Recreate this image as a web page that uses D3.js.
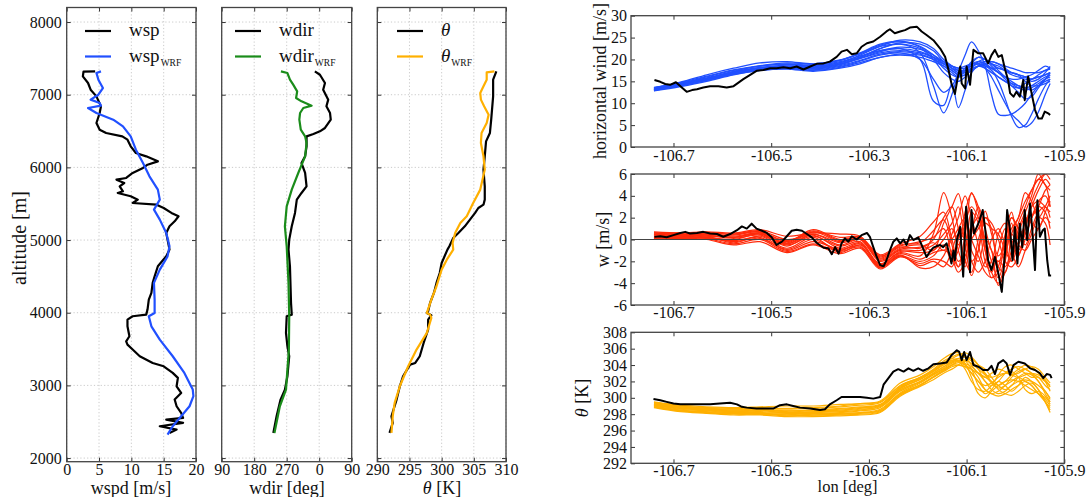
<!DOCTYPE html>
<html>
<head>
<meta charset="utf-8">
<script src="https://cdn.jsdelivr.net/npm/d3@7"></script>
<style>
  body { margin: 0; background: #fff; }
  svg { display: block; }
</style>
</head>
<body>
<svg id="fig" width="1087" height="497" font-family="Liberation Serif"></svg>
<script>
// ---------------- vertical profiles (altitude in m) ----------------
const altTicks = [2000, 3000, 4000, 5000, 6000, 7000, 8000];
const wspTicks = [0, 5, 10, 15, 20];
const wdirTicks = [90, 180, 270, 360, 450];
const thetaTicks = [290, 295, 300, 305, 310];

const wspObsAlt = [7322,7318,7252,7161,7069,6977,6840,6748,6611,6519,6473,6427,6381,6290,6198,6152,6083,6037,5992,5923,5854,5831,5785,5739,5671,5648,5602,5556,5510,5487,5441,5373,5327,5258,5189,5098,5006,4868,4776,4639,4501,4410,4272,4180,4043,3974,3951,3905,3813,3676,3607,3561,3493,3401,3309,3263,3172,3103,2988,2896,2805,2713,2621,2553,2530,2484,2438,2392,2346];
const wspObs    = [4.4,2.6,2.5,3.3,3.7,4.6,5.3,5.1,4.6,5.1,6.1,8.6,9.4,9.9,10.7,12.3,14.1,12.5,11.8,10.2,9.2,7.7,8.9,8.2,8.7,7.9,9.9,11.0,10.2,13.9,15.0,16.2,17.3,16.7,15.9,15.4,15.6,15.9,15.4,14.1,13.6,13.3,13.1,12.7,12.5,12.3,10.2,9.4,9.4,9.7,9.2,9.4,10.2,11.3,13.3,15.0,16.4,17.2,17.0,17.7,16.7,17.0,17.7,18.0,15.4,18.0,14.4,17.0,15.9];

const wspWrfAlt = [7321,7298,7207,7092,7000,6932,6886,6849,6817,6748,6656,6565,6427,6244,6060,5877,5694,5556,5418,5281,5098,4914,4776,4593,4410,4180,3997,3951,3813,3630,3401,3172,2942,2851,2713,2576,2438,2323];
const wspWrf    = [5.3,4.6,4.9,5.6,4.9,3.7,5.1,5.3,3.3,4.6,7.2,8.7,9.9,10.7,11.8,12.8,14.1,14.4,13.5,14.4,15.4,15.9,15.6,14.4,13.5,13.6,13.6,12.7,13.1,14.4,16.4,18.2,19.5,19.6,19.0,17.7,16.4,15.6];

// wind direction in compass degrees
const wdirObsAlt = [7321,7275,7161,7069,6932,6840,6748,6656,6542,6496,6459,6427,6290,6152,6060,5923,5739,5648,5556,5373,5189,5006,4868,4639,4134,3974,3951,3722,3538,3401,3126,2942,2805,2576,2346];
const wdirObs    = [348,2,16,11,25,20,30,32,16,2,344,325,325,321,311,321,325,311,298,293,284,277,275,279,282,284,270,268,272,277,272,265,253,242,233];

const wdirWrfAlt = [7321,7298,7207,7138,7046,6954,6909,6849,6817,6748,6656,6519,6427,6335,6152,5923,5694,5464,5189,4914,4410,3951,3493,2942,2713,2346];
const wdirWrf    = [254,272,279,288,299,296,311,339,316,307,305,309,321,325,321,302,284,270,265,270,275,277,276,268,251,236];

const thObsAlt = [7321,7207,6977,6656,6473,6358,6152,5969,5739,5556,5487,5441,5373,5281,5189,5098,5029,4914,4868,4685,4547,4410,4272,4134,4020,3997,3965,3905,3768,3584,3401,3309,3286,3126,2988,2805,2576,2484,2346];
const thObs    = [308.5,308.0,308.0,307.7,307.5,306.9,306.7,306.5,306.7,306.7,306.5,305.7,305.2,304.4,303.6,302.6,301.8,301.2,300.9,300.0,299.7,299.2,298.8,298.2,297.9,297.7,298.4,297.9,297.9,297.2,296.6,295.9,295.1,294.0,293.5,293.0,292.2,292.4,291.9];

const thWrfAlt = [7321,7307,7207,7115,7023,6932,6840,6725,6611,6473,6335,6152,5969,5694,5510,5327,5235,5098,4960,4868,4730,4593,4364,4180,3997,3974,3928,3722,3493,3263,2988,2759,2576,2346];
const thWrf    = [308.2,307.0,307.0,306.5,306.0,306.1,306.6,307.3,307.0,306.2,306.1,306.5,306.7,306.0,304.9,303.9,302.9,302.1,301.7,301.8,300.8,300.0,299.2,298.4,297.7,298.2,298.4,297.7,296.1,294.8,293.5,292.7,292.4,292.2];

// ---------------- flight track (longitude in deg) ----------------
const lonTicks = [-106.7, -106.5, -106.3, -106.1, -105.9];
const windTicks = [0, 5, 10, 15, 20, 25, 30];
const wTicks = [-6, -4, -2, 0, 2, 4, 6];
const thTicks = [292, 294, 296, 298, 300, 302, 304, 306, 308];

const windObsLon = [-106.739,-106.727,-106.717,-106.707,-106.695,-106.683,-106.673,-106.662,-106.652,-106.639,-106.625,-106.608,-106.591,-106.577,-106.567,-106.557,-106.543,-106.53,-106.516,-106.502,-106.489,-106.475,-106.461,-106.448,-106.434,-106.42,-106.407,-106.393,-106.38,-106.366,-106.356,-106.345,-106.335,-106.325,-106.315,-106.304,-106.291,-106.277,-106.264,-106.257,-106.247,-106.236,-106.226,-106.216,-106.202,-106.192,-106.182,-106.168,-106.154,-106.144,-106.137,-106.131,-106.124,-106.119,-106.113,-106.11,-106.103,-106.1,-106.093,-106.086,-106.076,-106.066,-106.056,-106.049,-106.042,-106.035,-106.028,-106.021,-106.015,-106.011,-106.004,-105.998,-105.991,-105.984,-105.981,-105.974,-105.967,-105.96,-105.953,-105.946,-105.94,-105.933,-105.929];
const windObs    = [15.3,14.9,14.4,14.2,14.8,13.6,12.6,13.0,13.2,13.6,13.9,13.9,13.6,13.9,14.7,15.5,16.5,17.4,17.6,18.0,18.0,18.2,18.0,18.4,17.7,18.4,19.0,19.1,19.5,20.6,21.8,22.2,21.2,21.4,22.9,23.7,24.1,25.2,26.4,26.9,26.0,26.4,26.7,27.3,27.5,26.4,25.6,24.4,22.5,20.6,17.6,14.5,12.1,15.3,18.4,14.5,13.4,18.4,14.2,22.2,21.4,21.4,19.1,21.0,22.2,20.6,21.0,17.6,15.3,12.3,11.5,12.6,11.5,15.3,10.7,16.1,12.3,8.5,6.5,6.5,8.1,7.7,7.3];

const wObsLon = [-106.739,-106.727,-106.714,-106.7,-106.686,-106.676,-106.666,-106.652,-106.639,-106.625,-106.611,-106.598,-106.584,-106.57,-106.56,-106.55,-106.54,-106.53,-106.519,-106.509,-106.499,-106.489,-106.478,-106.468,-106.458,-106.448,-106.437,-106.427,-106.417,-106.407,-106.393,-106.383,-106.376,-106.369,-106.362,-106.356,-106.349,-106.342,-106.335,-106.325,-106.315,-106.304,-106.298,-106.291,-106.284,-106.277,-106.27,-106.264,-106.257,-106.25,-106.243,-106.236,-106.229,-106.223,-106.216,-106.209,-106.199,-106.192,-106.182,-106.175,-106.168,-106.161,-106.154,-106.148,-106.141,-106.134,-106.131,-106.127,-106.124,-106.12,-106.113,-106.11,-106.107,-106.101,-106.096,-106.093,-106.09,-106.085,-106.079,-106.073,-106.067,-106.062,-106.056,-106.049,-106.042,-106.035,-106.028,-106.021,-106.017,-106.011,-106.006,-106.001,-105.996,-105.991,-105.986,-105.981,-105.976,-105.97,-105.965,-105.96,-105.955,-105.95,-105.944,-105.94,-105.935,-105.931,-105.927];
const wObs    = [0.24,0.3,0.2,0.4,0.6,0.7,0.55,0.6,0.7,0.55,0.5,0.25,0.5,0.85,1.2,1.0,1.45,1.0,0.8,0.6,0.2,-0.5,-0.2,0.3,0.8,0.9,0.8,0.5,0.2,-0.3,-0.75,-0.8,-1.35,-0.7,-1.3,-0.35,0.1,-0.2,0.3,0.0,0.4,0.6,0.25,-0.7,-1.6,-2.35,-2.45,-1.9,-1.0,-0.2,0.1,-0.35,0.0,-0.5,0.4,-0.05,0.2,-0.5,-1.6,-1.1,-0.75,-0.6,-0.5,-0.7,-0.35,-1.6,-2.2,-1.0,-1.9,-0.05,1.15,-1.3,-3.4,3.0,0.55,-3.0,2.7,0.55,1.15,1.8,2.7,1.0,-1.9,-2.8,-1.6,-3.1,-4.8,-1.0,2.7,0.85,-1.9,1.15,-2.2,1.45,-0.7,2.7,-0.05,3.3,0.55,-2.8,3.6,0.25,0.85,1.0,-1.9,-3.3,-3.3];

const thTrackLon = [-106.741,-106.727,-106.714,-106.7,-106.686,-106.666,-106.645,-106.625,-106.605,-106.584,-106.57,-106.56,-106.55,-106.53,-106.509,-106.495,-106.482,-106.468,-106.455,-106.441,-106.42,-106.4,-106.39,-106.38,-106.366,-106.356,-106.345,-106.332,-106.318,-106.304,-106.291,-106.277,-106.27,-106.26,-106.25,-106.24,-106.229,-106.219,-106.209,-106.199,-106.189,-106.178,-106.168,-106.154,-106.141,-106.131,-106.12,-106.115,-106.11,-106.105,-106.1,-106.093,-106.086,-106.076,-106.066,-106.056,-106.049,-106.042,-106.035,-106.025,-106.018,-106.011,-106.004,-105.994,-105.981,-105.97,-105.96,-105.95,-105.943,-105.936,-105.929,-105.926];
const thTrack    = [299.86,299.7,299.5,299.3,299.2,299.2,299.2,299.2,299.3,299.4,299.2,298.9,298.8,298.7,298.7,298.7,299.1,299.2,299.0,298.8,298.7,298.5,298.6,299.2,299.7,300.1,300.1,300.1,300.1,300.0,299.9,300.1,301.6,302.4,303.2,303.5,303.2,303.6,303.3,303.6,303.3,303.6,304.1,304.2,304.3,305.2,305.8,305.6,304.6,305.6,304.6,305.6,304.0,303.8,303.4,303.4,303.9,302.9,304.2,304.6,304.2,302.8,304.0,304.4,304.2,303.6,303.4,303.0,302.4,302.9,302.8,302.4];

// WRF ensemble members sampled along the track
const lonEns = [-106.74,-106.686,-106.632,-106.577,-106.523,-106.468,-106.414,-106.359,-106.318,-106.277,-106.236,-106.195,-106.168,-106.147,-106.13,-106.117,-106.103,-106.09,-106.076,-106.062,-106.049,-106.035,-106.021,-106.008,-105.994,-105.98,-105.967,-105.953,-105.939,-105.929];

const windEns = [
  [13.0,14.2,15.6,17.0,18.0,18.3,18.0,19.0,20.5,22.5,23.8,23.5,22.0,19.5,18.0,17.0,17.5,18.5,19.0,19.5,19.0,18.5,17.5,16.5,16.0,15.5,15.5,16.0,16.5,17.0],
  [13.3,14.5,16.0,17.5,18.5,19.0,18.5,19.3,21.0,23.0,24.4,24.0,22.5,20.0,18.5,17.5,17.0,17.5,18.5,19.5,19.5,19.0,18.0,17.0,16.5,16.0,15.0,15.5,17.0,18.4],
  [12.8,13.8,15.0,16.5,17.5,17.8,17.3,18.0,19.0,20.5,21.0,20.5,19.5,18.5,17.5,16.5,16.5,17.5,18.5,19.0,18.0,17.0,16.0,15.0,14.0,13.5,14.0,15.0,16.0,16.5],
  [13.5,14.8,16.5,18.0,19.2,19.5,19.0,19.8,21.5,23.5,24.2,23.0,21.0,19.0,17.5,16.5,17.0,18.0,19.5,20.0,19.0,17.5,16.0,14.5,13.5,13.0,13.5,14.5,15.5,16.0],
  [13.6,14.6,15.8,17.2,18.2,18.7,18.6,19.5,20.8,22.0,22.5,21.8,20.5,19.0,18.0,17.5,17.5,18.0,18.5,19.0,19.5,19.0,18.5,18.0,17.5,17.0,17.0,17.0,17.5,17.8],
  [12.9,14.0,15.2,16.8,17.8,18.0,17.5,18.2,19.3,20.5,21.2,21.0,20.0,19.0,18.5,18.0,18.5,19.0,19.5,19.0,18.0,17.0,15.5,14.0,12.5,11.0,11.5,13.5,15.5,17.0],
  [13.4,14.4,15.5,17.3,18.5,18.9,18.8,19.8,21.3,23.0,23.5,22.5,20.0,17.0,15.5,15.0,16.0,18.0,19.5,19.0,17.5,16.0,15.0,14.5,14.0,13.5,13.0,14.0,15.0,15.5],
  [13.1,14.1,15.4,16.9,17.9,18.4,18.2,19.0,20.2,21.5,22.0,21.5,20.5,19.5,18.5,18.0,18.0,18.5,19.0,18.5,18.0,18.0,17.5,17.0,16.5,15.0,14.0,14.0,14.5,15.0],
  [13.2,14.3,15.7,17.1,18.1,18.5,18.3,19.2,20.6,22.0,22.8,22.3,21.0,19.5,18.0,17.0,17.5,19.0,20.5,20.0,18.5,17.0,16.0,15.5,15.5,16.0,16.5,17.5,18.5,18.0],
  [13.0,14.0,15.3,16.7,17.6,18.1,17.8,18.6,19.8,21.2,21.8,21.2,20.0,18.5,17.0,16.0,16.5,17.5,18.5,18.0,17.0,16.0,15.0,14.0,13.5,14.5,15.5,16.0,16.5,17.0],
  [13.3,14.4,15.6,17.0,18.0,18.2,18.0,18.8,20.5,22.5,23.5,21.5,14.0,7.8,12.0,17.0,21.0,24.0,22.0,18.5,12.0,7.5,7.2,7.5,8.5,10.0,12.0,14.0,15.5,16.5],
  [13.1,14.2,15.5,16.9,17.9,18.3,18.0,18.9,20.3,21.8,22.5,20.0,10.5,9.5,14.5,9.0,13.0,17.0,18.5,18.5,17.5,15.0,11.0,7.0,4.5,5.0,7.5,11.0,14.0,15.5],
  [13.0,14.0,15.2,16.6,17.5,17.9,17.6,18.4,19.6,21.0,21.5,20.0,15.5,12.5,14.0,16.5,18.0,19.0,19.0,18.0,16.0,13.0,10.0,7.5,6.0,4.6,5.5,8.0,12.0,14.5],
  [13.5,14.7,16.2,17.6,18.6,19.2,19.0,19.9,21.4,23.3,24.0,22.8,20.5,18.0,16.5,16.0,17.5,19.5,20.5,20.0,19.0,18.0,17.5,17.0,16.5,16.0,15.5,16.5,17.5,18.0]
];

const wEns = [
  [0.6,0.5,0.4,0.2,0.6,-0.4,0.7,-0.2,0.1,-1.8,-0.8,-0.5,-1.0,1.5,3.0,4.2,1.0,-2.0,-1.0,2.0,1.0,-2.5,-3.0,0.5,2.0,3.5,4.5,5.5,6.0,5.5],
  [0.3,0.4,0.6,0.5,0.8,0.0,0.4,-0.8,-0.3,-2.5,-1.5,-2.0,-1.5,-0.5,-2.0,-1.0,2.5,4.2,3.0,-0.5,-3.0,-4.0,-2.0,1.5,-1.0,0.5,2.0,3.5,4.0,3.0],
  [0.1,0.2,0.3,-0.3,0.3,-0.8,0.2,-1.2,-0.5,-2.2,-1.2,-1.5,0.5,4.3,2.0,-1.0,-2.5,0.5,3.0,1.0,-1.0,-2.0,-1.0,2.0,1.0,-0.5,1.0,2.5,3.0,2.0],
  [0.5,0.6,0.5,0.4,0.7,-0.2,0.9,0.0,0.2,-1.5,-0.6,-0.2,0.2,1.0,-1.5,-3.0,-2.0,1.0,2.0,-1.0,-3.5,-2.5,0.5,2.5,0.0,1.5,3.0,4.5,5.5,5.0],
  [0.2,0.3,0.1,-0.1,0.2,-1.0,-0.2,-0.9,-0.6,-2.6,-1.4,-2.6,-2.5,-1.5,0.5,2.0,4.0,2.0,-0.5,-2.5,-2.0,0.5,1.5,-1.0,-2.5,-1.0,0.5,2.0,1.5,-0.5],
  [0.7,0.6,0.7,0.6,0.9,0.3,0.6,0.5,0.3,-1.4,-0.4,0.3,1.6,2.5,0.0,-2.0,-1.0,2.5,1.5,-2.0,-3.0,-1.0,1.0,0.0,-1.5,1.0,3.5,5.0,6.0,6.0],
  [0.4,0.5,0.2,0.0,0.5,-0.6,0.5,-0.5,0.0,-2.0,-1.0,-1.0,-0.5,0.5,1.5,3.0,-0.5,-3.3,-1.0,2.6,0.5,-1.5,-0.5,1.0,2.0,4.3,3.5,2.0,3.0,4.0],
  [0.0,0.1,0.0,-0.5,-0.2,-1.2,-0.5,-1.3,-0.8,-2.7,-1.6,-2.2,-1.8,-2.0,-2.5,0.0,1.5,-1.0,-2.0,0.0,-1.0,-4.2,-3.0,-1.5,0.5,2.0,1.5,1.0,2.5,3.5],
  [0.5,0.4,0.5,0.3,0.6,-0.3,0.8,-0.1,0.1,-1.7,-0.7,-0.8,0.0,2.0,3.0,1.0,-2.0,-3.0,0.0,1.5,1.0,0.5,-1.0,-2.0,1.0,2.5,4.0,6.0,5.0,4.5],
  [0.3,0.3,0.4,0.1,0.4,-0.5,0.3,-0.6,-0.2,-2.3,-1.1,-1.2,-1.0,0.0,1.0,-0.5,1.5,3.0,2.0,0.0,-2.0,-3.5,-1.5,0.5,-0.5,-1.0,0.0,1.0,2.0,1.5],
  [0.6,0.5,0.6,0.5,0.7,-0.1,0.7,0.2,0.2,-1.6,-0.5,-0.3,0.8,1.8,-0.5,-2.5,0.5,4.3,2.5,-1.0,-2.5,-2.0,-2.5,-1.0,1.5,3.0,4.5,5.5,5.0,3.0],
  [0.2,0.2,0.2,-0.2,0.1,-0.9,0.0,-1.0,-0.4,-2.4,-1.3,-1.8,-1.2,-1.0,-1.5,-2.5,-1.5,0.0,1.0,2.0,1.5,0.0,-2.0,-2.5,-1.5,0.0,2.0,3.0,2.5,1.0],
  [0.4,0.4,0.3,0.2,0.5,-0.4,0.5,-0.3,0.0,-1.9,-0.9,-0.7,-0.3,-1.0,0.0,1.0,2.0,0.0,-1.5,-3.0,-3.5,-3.0,0.0,2.0,1.0,0.5,2.0,3.0,4.5,5.0],
  [0.1,0.2,0.1,-0.4,0.0,-1.1,-0.4,-1.1,-0.7,-2.5,-1.5,-2.4,-2.0,-2.5,-1.0,0.5,0.0,-2.0,-3.0,-2.0,0.0,1.0,-0.5,-2.0,-0.5,1.0,3.0,3.5,3.0,2.5]
];

const thEns = [
  [299.4,299.0,298.8,298.7,298.8,298.7,298.8,299.0,299.3,299.5,301.5,302.5,303.5,304.5,305.0,305.3,305.0,304.5,303.5,302.0,301.5,302.0,303.0,303.5,303.8,303.5,303.0,302.5,301.5,301.0],
  [299.2,298.7,298.5,298.3,298.3,298.2,298.2,298.3,298.5,299.0,301.0,302.0,303.0,303.8,304.3,304.8,305.0,304.8,304.0,303.5,302.5,301.5,301.0,301.5,302.5,303.0,302.8,302.0,300.5,299.5],
  [298.9,298.4,298.2,298.0,298.0,298.0,297.8,297.9,298.0,298.3,300.3,301.5,302.5,303.3,304.0,304.5,304.5,303.5,301.5,300.5,301.0,302.0,301.5,300.8,301.5,302.5,302.0,301.0,299.5,298.2],
  [299.5,299.1,298.9,298.8,298.9,299.0,299.0,299.2,299.3,299.6,301.8,302.8,303.8,304.8,305.4,305.5,305.0,304.0,303.0,302.5,303.0,303.5,303.2,302.8,303.0,303.5,303.8,303.5,302.5,301.8],
  [299.0,298.5,298.3,298.2,298.1,297.9,298.0,298.1,298.2,298.6,300.6,301.8,302.8,303.5,304.0,304.0,303.8,303.5,302.5,301.0,300.5,300.8,301.5,302.0,302.5,302.0,301.5,300.5,299.8,299.0],
  [299.3,298.9,298.6,298.5,298.6,298.4,298.5,298.7,298.9,299.2,301.2,302.2,303.2,304.0,304.5,304.8,304.2,302.5,300.5,300.0,300.8,301.5,302.0,302.2,302.0,301.5,301.0,300.5,300.0,299.5],
  [298.8,298.3,298.1,297.9,297.9,297.7,297.7,297.8,297.9,298.2,300.2,301.4,302.2,303.0,303.5,304.0,304.5,304.8,304.0,302.8,301.8,301.2,301.5,302.5,303.2,303.5,303.0,302.0,300.8,300.0],
  [299.1,298.6,298.4,298.2,298.2,298.1,298.1,298.2,298.4,298.8,300.8,301.9,302.9,303.6,304.2,304.5,304.0,303.0,302.0,301.5,301.8,302.5,303.0,303.2,302.5,301.0,300.5,300.8,300.2,299.2],
  [299.4,299.0,298.7,298.6,298.7,298.6,298.7,298.9,299.1,299.4,301.4,302.5,303.4,304.3,304.8,304.5,303.5,302.0,301.0,300.8,301.5,302.8,303.8,304.0,303.5,303.0,302.5,302.5,302.0,301.5],
  [299.0,298.5,298.2,298.1,298.0,297.8,297.9,298.0,298.1,298.5,300.5,301.6,302.6,303.4,304.0,304.3,304.0,303.5,303.0,302.5,302.0,301.0,300.5,300.3,300.8,301.5,301.8,301.0,299.5,298.5],
  [299.2,298.8,298.6,298.4,298.5,298.3,298.4,298.5,298.7,299.1,301.1,302.3,303.2,304.2,304.8,305.2,305.5,305.0,304.0,303.0,302.0,301.5,302.0,302.8,303.5,304.0,303.8,303.0,302.0,300.8],
  [298.9,298.4,298.2,298.1,298.1,297.9,297.9,298.0,298.2,298.4,300.4,301.6,302.5,303.2,303.8,304.0,303.8,303.0,302.0,301.0,300.5,300.2,300.5,301.0,301.5,302.0,301.5,300.5,299.5,298.8],
  [299.3,298.9,298.7,298.5,298.5,298.4,298.5,298.6,298.8,299.1,301.3,302.4,303.3,304.1,304.6,304.8,304.6,304.2,303.5,302.8,302.5,302.8,303.0,302.8,302.5,302.8,303.0,302.8,302.2,301.3],
  [299.1,298.7,298.5,298.3,298.4,298.2,298.3,298.4,298.6,298.9,300.9,302.0,303.0,303.8,304.4,304.6,304.2,303.8,303.0,302.0,301.0,300.5,300.8,301.5,302.0,302.2,302.0,301.5,300.8,299.8]
];

// ---------------- drawing ----------------
const FONT = "Liberation Serif";
const BLUE = "#2150ff", GREEN = "#1a8c1a", ORANGE = "#ffb000", RED = "#ff2a0a", BLACK = "#000";
const svg = d3.select("#fig");

function styleAxis(sel, labelled) {
  sel.select(".domain").remove();
  sel.selectAll(".tick line").attr("stroke", "#333").attr("stroke-width", 1);
  sel.attr("font-family", FONT).attr("font-size", 16);
  sel.selectAll(".tick text").attr("fill", "#111").attr("font-family", FONT);
  if (!labelled) sel.selectAll(".tick text").remove();
}

function drawAxes(x, y, o) {
  const g = svg.append("g");
  const [xa, xb] = x.range();
  const [yb, ya] = y.range();
  if (o.grid) {
    const gg = g.append("g").attr("stroke", "#bdbdbd").attr("stroke-width", 0.8).attr("stroke-dasharray", "1.2,2.2");
    gg.selectAll(".gx").data(o.xTicks).join("line")
      .attr("x1", d => x(d)).attr("x2", d => x(d)).attr("y1", ya).attr("y2", yb);
    gg.selectAll(".gy").data(o.yTicks).join("line")
      .attr("x1", xa).attr("x2", xb).attr("y1", d => y(d)).attr("y2", d => y(d));
  }
  g.append("g").attr("transform", `translate(0,${yb})`)
    .call(d3.axisBottom(x).tickValues(o.xTicks).tickSize(-4).tickPadding(o.xPad || 3).tickFormat(o.xFmt))
    .call(s => styleAxis(s, true));
  g.append("g").attr("transform", `translate(0,${ya})`)
    .call(d3.axisTop(x).tickValues(o.xTicks).tickSize(-4))
    .call(s => styleAxis(s, false));
  g.append("g").attr("transform", `translate(${xa},0)`)
    .call(d3.axisLeft(y).tickValues(o.yTicks).tickSize(-4).tickPadding(o.yPad || 5).tickFormat(o.yFmt || (d => d)))
    .call(s => styleAxis(s, o.yLabels !== false));
  g.append("g").attr("transform", `translate(${xb},0)`)
    .call(d3.axisRight(y).tickValues(o.yTicks).tickSize(-4))
    .call(s => styleAxis(s, false));
  return g;
}

function frame(x, y) {
  const [xa, xb] = x.range();
  const [yb, ya] = y.range();
  svg.append("rect").attr("x", xa).attr("y", ya).attr("width", xb - xa).attr("height", yb - ya)
    .attr("fill", "none").attr("stroke", "#444").attr("stroke-width", 1.3);
}

function clipFor(id, x, y) {
  const [xa, xb] = x.range();
  const [yb, ya] = y.range();
  svg.append("clipPath").attr("id", id).append("rect")
    .attr("x", xa).attr("y", ya).attr("width", xb - xa).attr("height", yb - ya);
  return `url(#${id})`;
}

// ---- profile panels ----
const yAlt = d3.scaleLinear().domain([1950, 8200]).range([461.7, 7.5]);
const xWsp = d3.scaleLinear().domain([0, 20]).range([66.7, 196]);
const xDir = d3.scaleLinear().domain([90, 450]).range([221.7, 351.7]);
const xTh = d3.scaleLinear().domain([290, 310]).range([377.3, 506]);

const unwrap = d => (d < 90 ? d + 360 : d);

function profile(x, vals, alts, color, width, map) {
  const pts = vals.map((v, i) => [map ? map(v) : v, alts[i]]);
  return svg.append("path").datum(pts)
    .attr("fill", "none").attr("stroke", color).attr("stroke-width", width)
    .attr("stroke-linejoin", "round")
    .attr("d", d3.line().x(d => x(d[0])).y(d => yAlt(d[1])));
}

function legend(x0, entries) {
  entries.forEach((e, i) => {
    const yy = 31 + i * 25.5;
    svg.append("line").attr("x1", x0).attr("x2", x0 + 26).attr("y1", yy).attr("y2", yy)
      .attr("stroke", e.color).attr("stroke-width", 2.2);
    const t = svg.append("text").attr("x", x0 + 44).attr("y", yy + 5)
      .attr("font-family", FONT).attr("font-size", 19).attr("fill", "#111");
    t.append("tspan").attr("font-style", e.italic ? "italic" : null).text(e.label);
    if (e.sub) t.append("tspan").attr("font-size", 9.5).attr("dy", 4).attr("dx", 1).text(e.sub);
  });
}

const pOpts = { grid: true, yTicks: altTicks };
drawAxes(xWsp, yAlt, Object.assign({}, pOpts, { xTicks: wspTicks, xFmt: d => d, yPad: 5, xPad: 2 }));
drawAxes(xDir, yAlt, Object.assign({}, pOpts, { xTicks: wdirTicks, xFmt: d => d % 360, yLabels: false, xPad: 2 }));
drawAxes(xTh, yAlt, Object.assign({}, pOpts, { xTicks: thetaTicks, xFmt: d => d, yLabels: false, xPad: 2 }));

profile(xWsp, wspObs, wspObsAlt, BLACK, 2.2);
profile(xWsp, wspWrf, wspWrfAlt, BLUE, 2.2);
profile(xDir, wdirObs, wdirObsAlt, BLACK, 2.2, unwrap);
profile(xDir, wdirWrf, wdirWrfAlt, GREEN, 2.2, unwrap);
profile(xTh, thObs, thObsAlt, BLACK, 2.2);
profile(xTh, thWrf, thWrfAlt, ORANGE, 2.2);

frame(xWsp, yAlt); frame(xDir, yAlt); frame(xTh, yAlt);

legend(85, [{ label: "wsp", color: BLACK }, { label: "wsp", sub: "WRF", color: BLUE }]);
legend(235, [{ label: "wdir", color: BLACK }, { label: "wdir", sub: "WRF", color: GREEN }]);
legend(397, [{ label: "θ", italic: true, color: BLACK }, { label: "θ", sub: "WRF", italic: true, color: ORANGE }]);

function label(x, y, rot, size) {
  const t = svg.append("text").attr("x", x).attr("y", y)
    .attr("font-family", FONT).attr("font-size", size || 18).attr("fill", "#111")
    .attr("text-anchor", "middle");
  if (rot) t.attr("transform", `rotate(-90,${x},${y})`).attr("dominant-baseline", "central");
  return t;
}
label(19, 238, true, 20).text("altitude [m]");
label(131, 494, false, 18).text("wspd [m/s]");
label(287, 494, false, 18).text("wdir [deg]");
const thx = label(442, 494, false, 18);
thx.append("tspan").attr("font-style", "italic").text("θ");
thx.append("tspan").text(" [K]");

// ---- flight-track panels ----
const xLon = d3.scaleLinear().domain([-106.787, -105.9]).range([631, 1064.3]);
const yWind = d3.scaleLinear().domain([0, 30]).range([147, 15.7]);
const yW = d3.scaleLinear().domain([-6, 6]).range([305, 174]);
const yTh2 = d3.scaleLinear().domain([292, 308]).range([463.3, 332.3]);
const lonFmt = d => d.toFixed(1);

function track(y, clip, lons, vals, color, width, curve) {
  svg.append("path").datum(vals.map((v, i) => [lons[i], v]))
    .attr("clip-path", clip)
    .attr("fill", "none").attr("stroke", color).attr("stroke-width", width)
    .attr("stroke-linejoin", "round")
    .attr("d", d3.line().x(d => xLon(d[0])).y(d => y(d[1])).curve(curve || d3.curveLinear));
}

// horizontal wind
const c1 = clipFor("clipWind", xLon, yWind);
drawAxes(xLon, yWind, { xTicks: lonTicks, yTicks: windTicks, xFmt: lonFmt, yPad: 4 });
windEns.forEach(m => track(yWind, c1, lonEns, m, BLUE, 1.3, d3.curveCatmullRom));
track(yWind, c1, windObsLon, windObs, BLACK, 2);
frame(xLon, yWind);

// vertical wind
const c2 = clipFor("clipW", xLon, yW);
drawAxes(xLon, yW, { xTicks: lonTicks, yTicks: wTicks, xFmt: lonFmt, yPad: 4, xPad: 2 });
wEns.forEach(m => track(yW, c2, lonEns, m, RED, 1.2, d3.curveCatmullRom));
svg.append("line").attr("x1", xLon.range()[0]).attr("x2", xLon.range()[1])
  .attr("y1", yW(0)).attr("y2", yW(0)).attr("stroke", "#444").attr("stroke-width", 1.2);
track(yW, c2, wObsLon, wObs, BLACK, 2);
frame(xLon, yW);

// potential temperature
const c3 = clipFor("clipTh", xLon, yTh2);
drawAxes(xLon, yTh2, { xTicks: lonTicks, yTicks: thTicks, xFmt: lonFmt, yPad: 4, xPad: 1 });
thEns.forEach(m => track(yTh2, c3, lonEns, m, ORANGE, 1.2, d3.curveCatmullRom));
track(yTh2, c3, thTrackLon, thTrack, BLACK, 2);
frame(xLon, yTh2);

label(600, 81, true, 18).text("horizontal wind [m/s]");
label(603, 239.5, true, 18).text("w [m/s]");
const thy = label(582, 398, true, 18);
thy.append("tspan").attr("font-style", "italic").text("θ");
thy.append("tspan").text(" [K]");
label(847.6, 491.5, false, 16.5).text("lon [deg]");
</script>
</body>
</html>
